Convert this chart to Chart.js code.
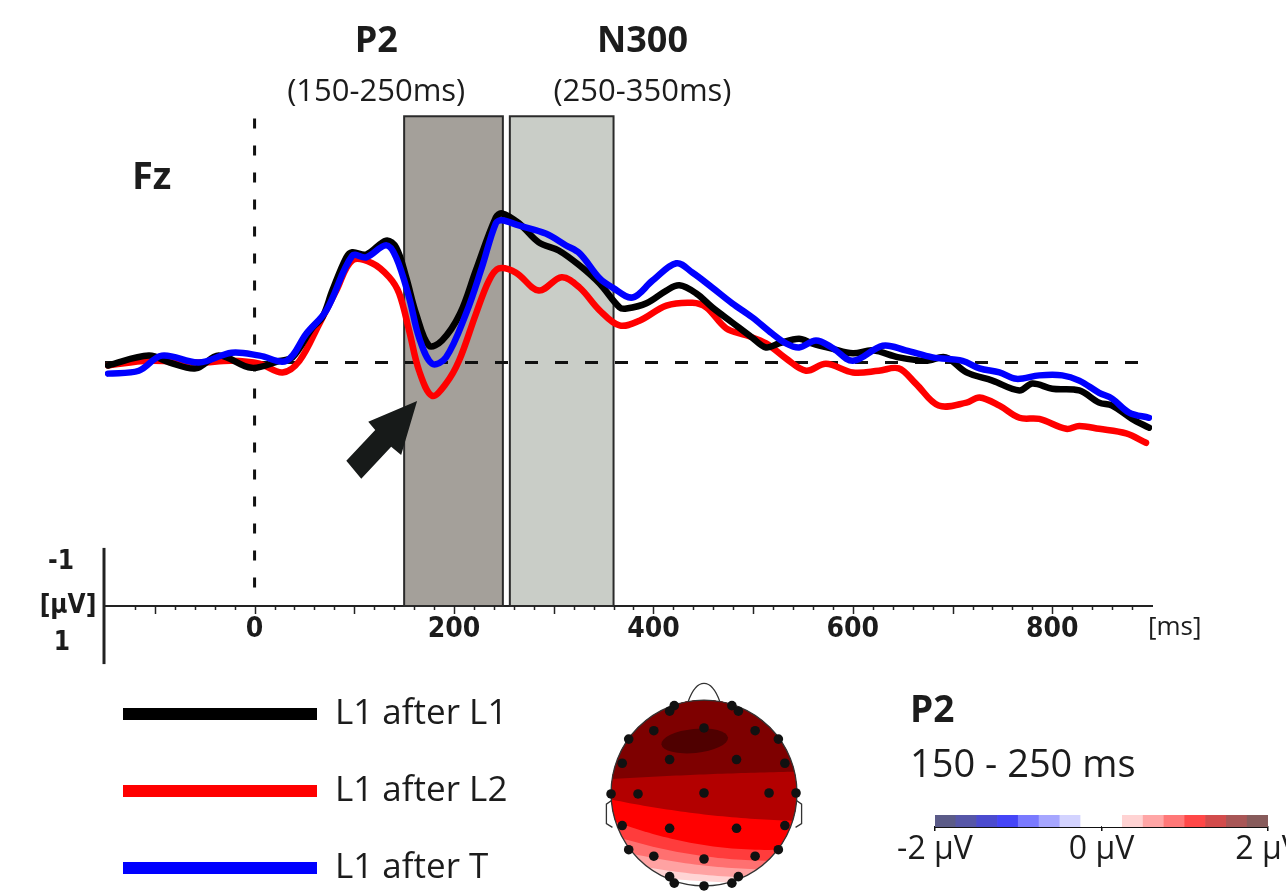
<!DOCTYPE html>
<html><head><meta charset="utf-8">
<script src="https://cdn.jsdelivr.net/npm/chart.js@4.4.1/dist/chart.umd.min.js"></script>
<style>
html,body{margin:0;padding:0;background:#fff;overflow:hidden;width:1286px;height:896px;}
canvas{position:absolute;}
#main{left:0;top:0;}
#head{left:589px;top:678px;}
#cbar{left:880px;top:790px;}
</style></head><body>
<canvas id="main" width="1286" height="896"></canvas>
<canvas id="head" width="230" height="230"></canvas>
<canvas id="cbar" width="440" height="90"></canvas>
<script>
// ---------------- DATA ----------------
const seriesLabels = ['L1 after L1', 'L1 after L2', 'L1 after T'];
const seriesColors = ['#000000', '#ff0000', '#0000ff'];

const timesBlack = [-147,-106,-85,-59,-36,-3,25,38,58,68,78,92,98,112,132,142,152,162,175,188,206,222,242,248,265,285,305,326,346,366,373,393,413,426,443,459,479,499,513,526,546,559,579,600,620,646,673,693,714,740,767,780,800,827,847,860,880,897];
const valuesBlack = [0.05,-0.12,0.0,0.10,-0.12,0.09,-0.03,-0.09,-0.60,-0.78,-1.24,-1.81,-1.90,-1.86,-2.10,-1.98,-1.47,-0.84,-0.29,-0.38,-0.84,-1.59,-2.50,-2.57,-2.40,-2.07,-1.93,-1.67,-1.36,-0.95,-0.93,-1.02,-1.24,-1.33,-1.19,-0.95,-0.69,-0.43,-0.26,-0.33,-0.41,-0.33,-0.24,-0.16,-0.21,-0.09,-0.03,-0.09,0.17,0.31,0.48,0.36,0.45,0.48,0.69,0.74,0.97,1.12];

const timesRed = [-147,-106,-56,-23,5,28,45,65,82,98,118,135,145,155,165,178,192,205,222,235,245,262,285,308,326,346,366,386,413,439,453,473,493,513,533,553,573,600,626,646,663,686,714,727,747,767,787,814,827,847,874,894];
const valuesRed = [0.05,-0.03,0,-0.03,0.02,0.17,-0.03,-0.67,-1.24,-1.76,-1.71,-1.47,-1.19,-0.55,0.14,0.57,0.36,-0.03,-0.84,-1.41,-1.62,-1.55,-1.24,-1.47,-1.29,-0.90,-0.64,-0.72,-0.98,-1.03,-0.95,-0.59,-0.47,-0.33,-0.07,0.14,0.02,0.17,0.14,0.10,0.36,0.74,0.69,0.60,0.74,0.95,0.97,1.14,1.09,1.14,1.22,1.38];

const timesBlue = [-147,-116,-93,-56,-23,5,32,52,72,98,112,132,142,155,165,178,192,212,228,242,248,265,292,312,326,346,359,379,399,423,439,459,479,499,519,533,546,563,579,600,630,653,680,710,727,747,764,787,810,827,847,860,877,897];
const valuesBlue = [0.19,0.14,-0.12,0,-0.17,-0.12,-0.03,-0.50,-0.90,-1.84,-1.81,-2.02,-1.81,-1.12,-0.43,0.02,-0.09,-0.84,-1.64,-2.40,-2.45,-2.36,-2.22,-2.02,-1.88,-1.45,-1.29,-1.12,-1.41,-1.71,-1.55,-1.29,-1.02,-0.78,-0.50,-0.33,-0.26,-0.38,-0.26,-0.03,-0.29,-0.21,-0.09,-0.03,0.10,0.17,0.28,0.22,0.22,0.31,0.52,0.62,0.86,0.95];

const xTickLabels = [0, 200, 400, 600, 800];
const windowNames = ['P2', 'N300'];
const windowRanges = ['(150-250ms)', '(250-350ms)'];
const windowLabelAt = [122, 389];
const windowStart = [150, 256];
const windowEnd = [249, 360];
const windowTop = -4.24;
const windowColors = ['#a4a09a', '#c9cdc7'];

const arrowTimes = [163, 114, 121, 92, 107, 137, 147];
const arrowValues = [0.66, 1.02, 1.16, 1.69, 2.00, 1.45, 1.59];

const scaleBarLabels = ['-1', '[\u00b5V]', '1'];

// topography (head coords, unit radius)
const electrodeU = [-0.32,0.30,-0.37,0.37,0,-0.54,0.55,-0.81,0.80,-0.37,0.35,-0.88,0.87,-1.0,-0.71,0,0.70,0.99,-0.88,-0.37,0.35,0.87,-0.81,-0.54,0,0.55,0.80,-0.37,-0.32,0.30,0.37,0];
const electrodeV = [0.94,0.94,0.88,0.88,0.70,0.67,0.67,0.58,0.58,0.36,0.36,0.32,0.32,-0.01,-0.01,0,0,0,-0.35,-0.38,-0.38,-0.35,-0.61,-0.68,-0.71,-0.68,-0.61,-0.90,-0.97,-0.97,-0.90,-1.0];
// contour boundaries: v at u=-1, u=0, u=+1 ; colour of the region above each
const contourLeft  = [-0.85, -0.72, -0.60, -0.45, -0.29, -0.07, 0.15];
const contourMid   = [-0.95, -0.88, -0.78, -0.68, -0.56, -0.23, 0.20];
const contourRight = [-0.97, -0.90, -0.82, -0.72, -0.60, -0.30, 0.23];
const contourColors = ['#ffd4d4', '#ffa2a2', '#ff7070', '#ff3c3c', '#ff0000', '#b30000', '#7e0000'];

const cbLow  = [-2,-1.75,-1.5,-1.25,-1,-0.75,-0.5,-0.25,0,0.25,0.5,0.75,1,1.25,1.5,1.75];
const cbHigh = [-1.75,-1.5,-1.25,-1,-0.75,-0.5,-0.25,0,0.25,0.5,0.75,1,1.25,1.5,1.75,2];
const cbColors = ['#5b5b88','#5656a8','#4b4bcf','#4545f7','#7a7aff','#a6a6ff','#d3d3ff','#ffffff','#ffffff','#ffd3d3','#ffa6a6','#ff7878','#ff4848','#d24c4c','#a85656','#875b5b'];
const cbTicks = [-2, 0, 2];

// ---------------- MAIN CHART ----------------
const TXT = '#1c1c1c';
const NARROW = "'Liberation Sans Narrow','DejaVu Sans Condensed',sans-serif";
const SANS = "'Open Sans','Noto Sans',sans-serif";

function pts(t, v) { return t.map((tt, i) => ({x: tt, y: v[i]})); }

const annot = {
  id: 'annot',
  beforeDatasetsDraw(chart) {
    const {ctx, scales: {x, y}} = chart;
    ctx.save();
    for (let i = 0; i < windowStart.length; i++) {
      const x0 = x.getPixelForValue(windowStart[i]), x1 = x.getPixelForValue(windowEnd[i]);
      const y0 = y.getPixelForValue(windowTop), y1 = y.getPixelForValue(y.max);
      ctx.fillStyle = windowColors[i];
      ctx.fillRect(x0, y0, x1 - x0, y1 - y0);
      ctx.strokeStyle = '#2a2a2a'; ctx.lineWidth = 2;
      ctx.strokeRect(x0, y0, x1 - x0, y1 - y0);
    }
    // dashed zero lines
    ctx.strokeStyle = '#111'; ctx.lineWidth = 3;
    ctx.setLineDash([13, 17]);
    ctx.beginPath();
    ctx.moveTo(x.getPixelForValue(x.min), y.getPixelForValue(0));
    ctx.lineTo(x.getPixelForValue(x.max), y.getPixelForValue(0));
    ctx.stroke();
    ctx.setLineDash([10, 17]);
    ctx.beginPath();
    ctx.moveTo(x.getPixelForValue(0), y.getPixelForValue(-4.2));
    ctx.lineTo(x.getPixelForValue(0), y.getPixelForValue(3.95));
    ctx.stroke();
    ctx.restore();
  },
  afterDatasetsDraw(chart) {
    const {ctx, scales: {x, y}} = chart;
    ctx.save();
    ctx.fillStyle = '#171a19';
    ctx.beginPath();
    arrowTimes.forEach((t, i) => {
      const px = x.getPixelForValue(t), py = y.getPixelForValue(arrowValues[i]);
      if (i === 0) ctx.moveTo(px, py); else ctx.lineTo(px, py);
    });
    ctx.closePath(); ctx.fill();
    ctx.restore();
  },
  afterDraw(chart) {
    const {ctx, scales: {x, y}} = chart;
    ctx.save();
    const axisY = y.getPixelForValue(y.max);
    // minor / major tick marks
    ctx.strokeStyle = '#222'; ctx.lineWidth = 1.5;
    for (let v = -120; v <= 880; v += 20) {
      const px = Math.round(x.getPixelForValue(v)) + 0.5;
      const len = (v % 100 === 0) ? 8 : 4;
      ctx.beginPath(); ctx.moveTo(px, axisY); ctx.lineTo(px, axisY + len); ctx.stroke();
    }
    // scale bar
    const barX = x.getPixelForValue(x.min) - 1;
    ctx.lineWidth = 3; ctx.strokeStyle = '#222';
    ctx.beginPath();
    ctx.moveTo(barX, y.getPixelForValue(y.max - 1));
    ctx.lineTo(barX, y.getPixelForValue(y.max + 1));
    ctx.stroke();
    ctx.fillStyle = TXT; ctx.textAlign = 'center'; ctx.textBaseline = 'middle';
    ctx.font = "bold 26px " + NARROW;
    ctx.fillText(scaleBarLabels[0], barX - 43, y.getPixelForValue(y.max - 0.76));
    ctx.fillText(scaleBarLabels[1], barX - 36, y.getPixelForValue(y.max));
    ctx.fillText(scaleBarLabels[2], barX - 42, y.getPixelForValue(y.max + 0.64));
    // [ms]
    ctx.font = "26px " + SANS; ctx.textAlign = 'left';
    ctx.fillText('[ms]', x.getPixelForValue(x.max) - 4, axisY + 22);
    // Fz
    ctx.font = "bold 38px " + SANS;
    ctx.fillText('Fz', 132, 178);
    // window labels
    ctx.textAlign = 'center';
    for (let i = 0; i < windowNames.length; i++) {
      const cx = x.getPixelForValue(windowLabelAt[i]);
      ctx.font = "bold 36px " + SANS;
      ctx.fillText(windowNames[i], cx, 42);
      ctx.font = "31px " + SANS;
      ctx.fillText(windowRanges[i], cx, 92);
    }
    // legend
    const ds = chart.data.datasets;
    ctx.textAlign = 'left';
    ds.forEach((d, i) => {
      const ly = 714 + i * 77;
      ctx.strokeStyle = d.borderColor; ctx.lineWidth = 12; ctx.lineCap = 'butt';
      ctx.beginPath(); ctx.moveTo(123, ly); ctx.lineTo(317, ly); ctx.stroke();
      ctx.fillStyle = TXT; ctx.font = "35px " + SANS;
      ctx.fillText(d.label, 335, ly);
    });
    // topomap title
    ctx.font = "bold 37px " + SANS;
    ctx.fillText(windowNames[0], 910, 711);
    ctx.font = "38px " + SANS;
    ctx.fillText('150 - 250 ms', 910, 766);
    ctx.restore();
  }
};

new Chart(document.getElementById('main'), {
  type: 'line',
  data: {
    datasets: [
      {label: seriesLabels[0], data: pts(timesBlack, valuesBlack), borderColor: seriesColors[0], order: 1},
      {label: seriesLabels[1], data: pts(timesRed, valuesRed), borderColor: seriesColors[1], order: 2},
      {label: seriesLabels[2], data: pts(timesBlue, valuesBlue), borderColor: seriesColors[2], order: 0}
    ].map(d => Object.assign(d, {borderWidth: 6.5, pointRadius: 0, tension: 0.35, fill: false, borderJoinStyle: 'round', borderCapStyle: 'round'}))
  },
  options: {
    responsive: false, animation: false, devicePixelRatio: 1,
    layout: {padding: {left: 105, right: 134, top: 100, bottom: 245}},
    plugins: {legend: {display: false}, tooltip: {enabled: false}},
    scales: {
      x: {
        type: 'linear', min: -150, max: 900,
        grid: {display: false, drawTicks: false},
        border: {display: true, color: '#222', width: 2},
        afterBuildTicks: s => { s.ticks = xTickLabels.map(v => ({value: v})); },
        afterFit: s => { s.height = 45; },
        ticks: {font: {family: NARROW, size: 28, weight: 'bold'}, color: TXT, padding: 7, maxRotation: 0, autoSkip: false, callback: v => String(v)}
      },
      y: {type: 'linear', display: false, min: -4.52, max: 4.19, reverse: true}
    }
  },
  plugins: [annot]
});

// ---------------- HEAD TOPOGRAPHY ----------------
const headPlugin = {
  id: 'headmap',
  beforeDatasetsDraw(chart) {
    const {ctx, scales: {x, y}} = chart;
    const cx = x.getPixelForValue(0), cy = y.getPixelForValue(0);
    const r = x.getPixelForValue(1) - cx;
    const P = (u, v) => [x.getPixelForValue(u), y.getPixelForValue(v)];
    ctx.save();
    ctx.beginPath(); ctx.arc(cx, cy, r, 0, Math.PI * 2); ctx.clip();
    ctx.fillStyle = '#ffffff'; ctx.fillRect(cx - r, cy - r, 2 * r, 2 * r);
    for (let k = 0; k < contourColors.length; k++) {
      const L = contourLeft[k], M = contourMid[k], R = contourRight[k];
      ctx.beginPath();
      let p = P(-1.2, 1.2); ctx.moveTo(p[0], p[1]);
      for (let u = -1.2; u <= 1.2001; u += 0.05) {
        const v = M + (R - L) / 2 * u + ((L + R) / 2 - M) * u * u;
        p = P(u, v); ctx.lineTo(p[0], p[1]);
      }
      p = P(1.2, 1.2); ctx.lineTo(p[0], p[1]);
      ctx.closePath();
      ctx.fillStyle = contourColors[k]; ctx.fill();
    }
    // darkest patch
    const e = P(-0.1, 0.56);
    ctx.fillStyle = '#4f0000';
    ctx.beginPath(); ctx.ellipse(e[0], e[1], 0.36 * r, 0.13 * r, -0.1, 0, Math.PI * 2); ctx.fill();
    ctx.restore();
    // outline, nose, ears
    ctx.save();
    ctx.strokeStyle = '#333'; ctx.lineWidth = 1.3;
    ctx.beginPath(); ctx.arc(cx, cy, r, 0, Math.PI * 2); ctx.stroke();
    let a = P(-0.17, 0.985), b = P(0, 1.18), c = P(0.17, 0.985);
    ctx.beginPath(); ctx.moveTo(a[0], a[1]);
    ctx.quadraticCurveTo(b[0] - 0.1 * r, b[1], b[0], b[1]);
    ctx.quadraticCurveTo(b[0] + 0.1 * r, b[1], c[0], c[1]);
    ctx.stroke();
    [-1, 1].forEach(s => {
      const p1 = P(s * 0.995, -0.08), p2 = P(s * 1.05, -0.12), p3 = P(s * 1.05, -0.33), p4 = P(s * 0.985, -0.37);
      ctx.beginPath(); ctx.moveTo(p1[0], p1[1]); ctx.lineTo(p2[0], p2[1]); ctx.lineTo(p3[0], p3[1]); ctx.lineTo(p4[0], p4[1]); ctx.stroke();
    });
    ctx.restore();
  }
};

new Chart(document.getElementById('head'), {
  type: 'scatter',
  data: {datasets: [{data: pts(electrodeU, electrodeV), pointRadius: 4.8, pointBackgroundColor: '#111', pointBorderWidth: 0, clip: false}]},
  options: {
    responsive: false, animation: false, devicePixelRatio: 1,
    layout: {padding: 0},
    plugins: {legend: {display: false}, tooltip: {enabled: false}},
    scales: {x: {display: false, min: -1.1856, max: 1.1856}, y: {display: false, min: -1.1856, max: 1.1856}}
  },
  plugins: [headPlugin]
});

// ---------------- COLOUR BAR ----------------
new Chart(document.getElementById('cbar'), {
  type: 'bar',
  data: {
    labels: ['P2'],
    datasets: [{
      data: cbLow.map((lo, i) => ({x: [lo, cbHigh[i]], y: 'P2'})),
      backgroundColor: cbColors, borderWidth: 0, barPercentage: 1, categoryPercentage: 1, grouped: false
    }]
  },
  options: {
    indexAxis: 'y', responsive: false, animation: false, devicePixelRatio: 1,
    layout: {padding: {left: 55, right: 52, top: 25, bottom: 0}},
    plugins: {legend: {display: false}, tooltip: {enabled: false}},
    scales: {
      y: {display: false},
      x: {
        type: 'linear', min: -2, max: 2,
        afterBuildTicks: s => { s.ticks = cbTicks.map(v => ({value: v})); },
        afterFit: s => { s.height = 53; },
        grid: {display: true, drawOnChartArea: false, drawTicks: true, tickLength: 4, color: '#111', lineWidth: 1.5},
        border: {display: true, color: '#111', width: 2},
        ticks: {font: {family: SANS, size: 32}, color: TXT, padding: 0, maxRotation: 0, autoSkip: false, callback: v => v + ' \u00b5V'}
      }
    }
  }
});
</script>
</body></html>
